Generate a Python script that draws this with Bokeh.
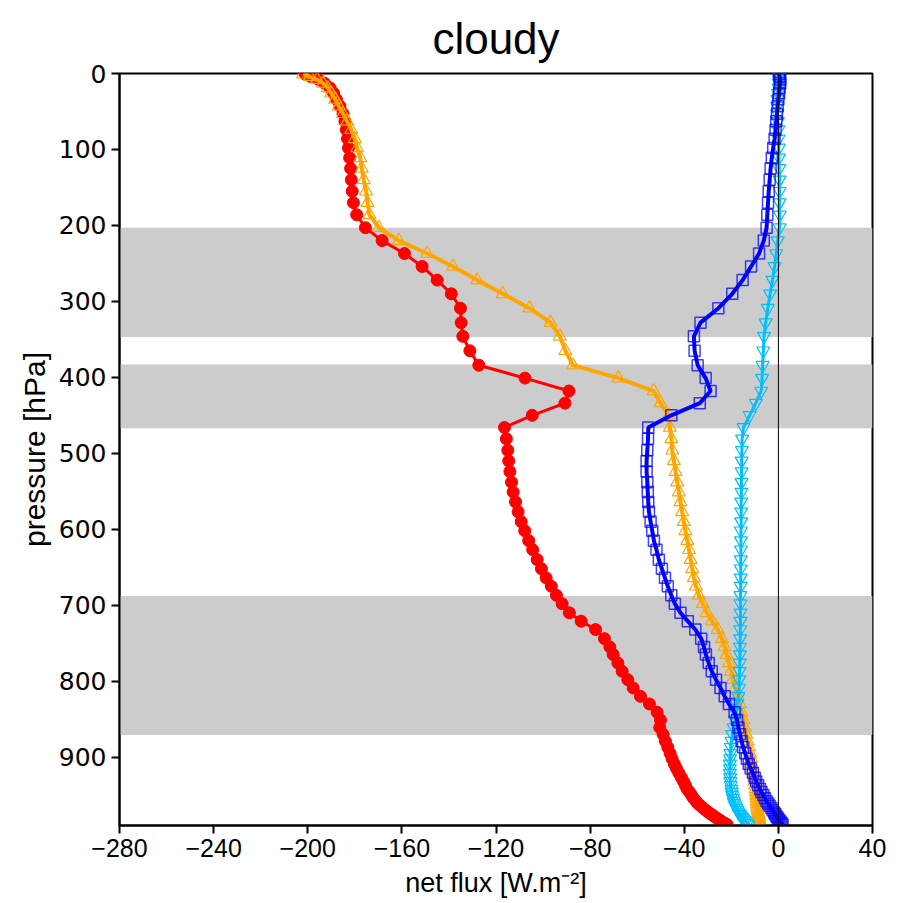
from bokeh.plotting import figure
from bokeh.models import Range1d, FixedTicker, BoxAnnotation, Span
from bokeh.embed import file_html
from bokeh.resources import INLINE

# pressure levels [hPa]
P = [1, 4, 8, 13, 19, 26, 34, 43, 53, 63,
     74, 86, 98, 111, 125, 140, 155, 170, 186, 203,
     220, 237, 254, 272, 290, 309, 328, 346, 365, 384,
     401, 418, 434, 450, 466, 481, 496, 510, 524, 538,
     551, 564, 577, 590, 602, 615, 627, 640, 652, 664,
     675, 687, 698, 710, 721, 732, 744, 755, 765, 776,
     787, 798, 809, 820, 830, 841, 851, 861, 870, 879,
     887, 895, 902, 909, 915, 921, 927, 932, 937, 942,
     946, 950, 954, 958, 961, 964, 967, 970, 973, 975,
     977, 979, 981, 983, 985, 987, 989]

RED = [-201, -198.8, -195.3, -192.8, -190.5, -189.0, -187.8, -186.3, -185.0, -184.2,
       -183.6, -183.1, -182.7, -182.2, -181.8, -181.5, -181.1, -180.6, -179.2, -175.5,
       -168.4, -158.9, -151.4, -145.0, -139.0, -135.1, -134.8, -134.1, -131.1, -127.3,
       -107.7, -89.0, -90.7, -104.6, -116.4, -115.6, -115.0, -114.6, -114.1, -113.4,
       -112.7, -111.7, -110.6, -109.3, -107.8, -106.1, -104.4, -102.5, -100.7, -98.7,
       -96.5, -94.3, -91.9, -88.8, -83.8, -77.7, -73.9, -71.6, -70.2, -68.2,
       -66.4, -64.0, -61.7, -58.6, -54.8, -51.5, -50.1, -50.4, -49.0, -48.0,
       -47.0, -46.0, -45.2, -44.2, -43.3, -42.3, -41.2, -40.3, -39.5, -38.8,
       -37.8, -36.9, -36.1, -35.0, -34.2, -33.1, -32.0, -30.8, -29.6, -28.6,
       -27.7, -26.8, -25.8, -24.9, -23.9, -22.8, -21.7]

ORANGE = [-202, -199, -196, -193.5, -191.5, -190, -188.3, -186.8, -185, -183.3,
          -181.5, -180, -179, -177.7, -177, -176.2, -175.2, -174.6, -173.8, -169.8,
          -161.3, -149.2, -138.3, -128.0, -117.1, -105.8, -96.8, -92.9, -90.5, -87.3,
          -68, -53, -50.1, -46.6, -46.1, -45.5, -45.1, -44.4, -43.7, -43.0,
          -42.3, -41.6, -40.9, -40.2, -39.5, -38.7, -38.0, -37.3, -36.6, -35.9,
          -35.0, -33.8, -32.2, -30.4, -28.2, -25.8, -24.0, -22.9, -22.0, -21.0,
          -20.1, -19.3, -18.4, -17.3, -16.3, -15.7, -14.9, -14.3, -13.7, -13.1,
          -12.5, -12.0, -11.6, -11.2, -10.9, -10.6, -10.3, -10.1, -9.9, -9.7,
          -9.5, -9.4, -9.3, -9.2, -9.1, -9.0, -8.9, -8.7, -8.6, -8.5,
          -8.4, -8.3, -8.2, -8.1, -8.0, -7.9, -7.8]

BLUE = [0.2, 0.5, 0.8, 0.8, 0.5, 0.3, 0.0, -0.3, -0.6, -0.9,
        -1.2, -1.6, -2.2, -2.8, -3.3, -3.7, -4.1, -4.4, -4.7, -5.0,
        -6.2, -8.2, -11.6, -15.2, -19.6, -25.5, -33.1, -35.9, -35.6, -34.3,
        -30.9, -28.8, -33.4, -45.5, -55.3, -55.4, -55.7, -56.0, -56.0, -55.7,
        -55.5, -55.3, -55.0, -54.3, -53.6, -52.9, -51.8, -50.8, -49.5, -48.2,
        -47.0, -45.5, -44.0, -41.6, -38.5, -35.3, -32.8, -31.6, -30.8, -29.6,
        -28.3, -26.5, -24.6, -22.8, -21.0, -18.6, -17.6, -17.0, -16.3, -15.6,
        -15.0, -14.1, -13.4, -12.6, -11.8, -10.8, -10.0, -9.4, -8.6, -7.8,
        -7.2, -6.4, -5.7, -5.0, -4.3, -3.7, -3.0, -2.4, -1.8, -1.4,
        -1.0, -0.5, -0.1, 0.4, 0.9, 1.4, 1.8]

CYAN = [0.3, 0.4, 0.4, 0.3, 0.1, -0.2, -0.4, -0.5, -0.4, -0.2,
        0.0, 0.1, 0.2, 0.3, 0.4, 0.5, 0.5, 0.5, 0.6, 0.5,
        -0.3, -0.9, -1.6, -2.5, -3.5, -4.5, -5.4, -6.1, -6.4, -6.7,
        -6.9, -7.3, -9.6, -12.2, -14.8, -15.4, -15.5, -15.6, -15.6, -15.7,
        -15.7, -15.8, -15.8, -15.8, -15.9, -15.9, -15.9, -16.0, -16.0, -16.0,
        -16.0, -16.1, -16.1, -16.1, -16.1, -16.2, -16.2, -16.3, -16.3, -16.4,
        -16.5, -16.6, -16.7, -17.0, -17.6, -18.0, -18.4, -19.0, -19.6, -19.9,
        -20.2, -20.4, -20.5, -20.6, -20.6, -20.6, -20.5, -20.4, -20.2, -20.0,
        -19.8, -19.6, -19.3, -19.0, -18.7, -18.3, -17.9, -17.4, -16.9, -16.5,
        -16.0, -15.5, -15.0, -14.4, -13.8, -13.2, -12.6]

# cloud layers (top, bottom) in hPa
CLOUD_TOP = [203, 383, 688]
CLOUD_BOT = [347, 467, 871]

X_TICKS = [-280, -240, -200, -160, -120, -80, -40, 0, 40]
Y_TICKS = [0, 100, 200, 300, 400, 500, 600, 700, 800, 900]

FONT = "Liberation Sans"

p = figure(width=901, height=903, x_range=Range1d(-280, 40), y_range=Range1d(990, 0),
           output_backend="svg", toolbar_location=None,
           min_border_left=119, min_border_right=29, min_border_top=72, min_border_bottom=78)

p.title.text = "cloudy"
p.title.align = "center"
p.title.text_font = FONT
p.title.text_font_size = "44px"
p.title.text_font_style = "normal"
p.title.text_color = "black"
p.title.standoff = 22

p.xgrid.visible = False
p.ygrid.visible = False
p.outline_line_color = "black"
p.outline_line_width = 2
p.outline_line_alpha = 1

for ax in (p.xaxis[0], p.yaxis[0]):
    ax.axis_line_width = 2
    ax.major_tick_line_width = 2
    ax.major_tick_out = 8
    ax.major_tick_in = 0
    ax.minor_tick_out = 0
    ax.minor_tick_in = 0
    ax.major_label_text_font = FONT
    ax.major_label_text_color = "black"
    ax.axis_label_text_font = FONT
    ax.axis_label_text_font_style = "normal"
    ax.axis_label_text_color = "black"

p.xaxis.ticker = FixedTicker(ticks=X_TICKS)
p.xaxis.major_label_overrides = {t: (str(t).replace("-", "\u2212")) for t in X_TICKS}
p.xaxis.major_label_text_font_size = "25px"
p.xaxis.axis_label = "net flux [W.m\u207b\u00b2]"
p.xaxis.axis_label_text_font_size = "27px"
p.xaxis.axis_label_standoff = 8

p.yaxis.ticker = FixedTicker(ticks=Y_TICKS)
p.yaxis.major_label_overrides = {t: str(t) for t in Y_TICKS}
p.yaxis.major_label_text_font = "DejaVu Sans"
p.yaxis.major_label_text_font_size = "25px"
p.yaxis.axis_label = "pressure [hPa]"
p.yaxis.axis_label_text_font_size = "30px"

for t, b in zip(CLOUD_TOP, CLOUD_BOT):
    p.add_layout(BoxAnnotation(top=t, bottom=b, fill_color="#CCCCCC", fill_alpha=1.0,
                               line_alpha=0, level="underlay"))

p.add_layout(Span(location=0, dimension="height", line_color="black", line_width=1))

# red
p.line(RED, P, line_color="#FF0000", line_width=3)
p.scatter(RED, P, marker="circle", size=12, fill_color="#FF0000", line_color="#FF0000")
# orange
p.line(ORANGE, P, line_color="#FFA500", line_width=4)
p.scatter(ORANGE, P, marker="triangle", size=13, fill_alpha=0, line_color="#FFA500", line_width=1.2)
# cyan
p.line(CYAN, P, line_color="#00BFFF", line_width=3)
p.scatter(CYAN, P, marker="inverted_triangle", size=13, fill_alpha=0, line_color="#00BFFF", line_width=1.2)
# blue
p.line(BLUE, P, line_color="#0000FF", line_width=4)
p.scatter(BLUE, P, marker="square", size=11, fill_alpha=0, line_color="#0000FF", line_alpha=0.75, line_width=1.5)

open("out.html", "w").write(file_html(p, INLINE))
